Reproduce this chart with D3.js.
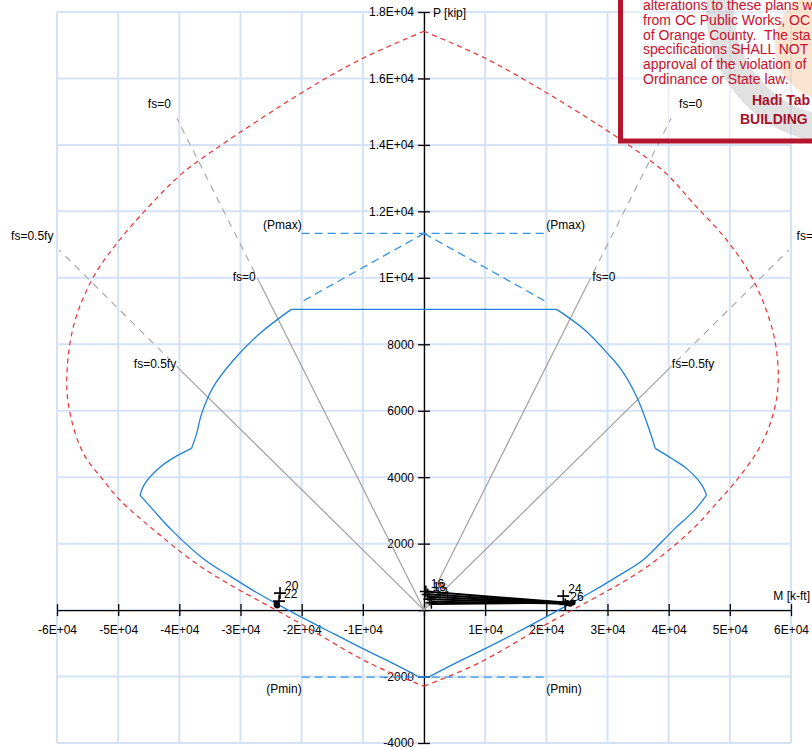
<!DOCTYPE html>
<html>
<head>
<meta charset="utf-8">
<script src="https://cdn.jsdelivr.net/npm/d3@7"></script>
<style>
  html, body { margin: 0; padding: 0; background: #fff; }
  svg { display: block; font-family: "Liberation Sans", Arial, sans-serif; }
  .pre { white-space: pre; }
</style>
</head>
<body>
<script>
// ---------------- data ----------------
const xTickValues = [-60000,-50000,-40000,-30000,-20000,-10000,0,10000,20000,30000,40000,50000,60000];
const xTickLabels = ["-6E+04","-5E+04","-4E+04","-3E+04","-2E+04","-1E+04","","1E+04","2E+04","3E+04","4E+04","5E+04","6E+04"];
const yTickValues = [-4000,-2000,0,2000,4000,6000,8000,10000,12000,14000,16000,18000];
const yTickLabels = ["-4000","-2000","","2000","4000","6000","8000","1E+04","1.2E+04","1.4E+04","1.6E+04","1.8E+04"];

// design strength (phi Pn - phi Mn), solid blue, closed path
const designM = [0,700,5000,10000,15000,22000,27140,31500,35800,40750,44250,46200,45300,43000,40500,37800,36670,34770,32300,30000,26300,21700,
                 -21700,-26800,-31170,-34440,-36340,-37160,-38000,-40430,-43160,-45610,-46430,-44250,-41250,-35800,-31500,-27300,-22200,-15000,-10000,-5000,-700,0];
const designP = [-2020,-2020,-1610,-1160,-690,0,521,1000,1505,2407,3009,3460,3800,4250,4560,4866,5516,6419,7222,7725,8430,9050,
                 9050,8330,7520,6720,5920,5320,4866,4640,4300,3813,3461,3009,2407,1505,1000,521,0,-690,-1160,-1610,-2020,-2020];

// nominal strength (Pn - Mn), dashed red, right and left halves
const nominalRightM = [0,9970,19290,32270,39500,44030,49490,53840,57110,57920,57110,54930,51120,47300,44030,36080,20270,8830,0];
const nominalRightP = [17420,16610,15650,14144,13150,12240,11135,9930,8330,6920,5920,4915,3912,3109,2458,1255,-400,-1604,-2290];
const nominalLeftM  = [0,-9970,-19290,-33680,-39500,-44250,-50240,-54330,-57330,-58410,-57870,-55700,-52430,-49700,-44140,-36080,-20270,-8830,0];
const nominalLeftP  = [17420,16610,15650,13930,13150,12290,11035,9930,8525,6920,5920,4716,3912,3310,2407,1255,-400,-1604,-2290];

// Pmax / Pmin
const pMax = 11336, pMin = -2016, pLimitM = 20000, pMaxDiagP = 9280;

// strain lines fs=0 and fs=0.5fy (inner point on design, outer end)
const fsLabels  = ["fs=0","fs=0","fs=0.5fy","fs=0.5fy"];
const fsInnerM  = [-26700, 26700, -39700, 39700];
const fsInnerP  = [9800, 9800, 7200, 7200];
const fsOuterM  = [-40400, 40400, -59600, 59600];
const fsOuterP  = [14800, 14800, 10830, 10830];

// load points
const loadLabels = ["20","22","24","26","16","18","12","14"];
const loadM = [-23540,-23700,22770,23100,300,600,900,1200];
const loadP = [512,271,421,170,560,470,330,220];
const dotM = [-24100,-24000,23400,23900,24300];
const dotP = [170,140,210,190,230];
// load paths from service points to magnified points
const pathFromM = [300,500,700,900,1100,1300];
const pathFromP = [560,480,400,330,250,180];
const pathToM   = [23600,23700,23800,23900,24100,24300];
const pathToP   = [220,210,200,190,200,230];

// stamp text
const stampLines = ["alterations to these plans w","from OC Public Works, OC","of Orange County.  The sta",
                    "specifications SHALL NOT","approval of the violation of","Ordinance or State law."];
const stampBold = ["Hadi Tab","BUILDING"];

// ---------------- drawing ----------------
const W = 812, H = 747;
const svg = d3.select("body").append("svg").attr("width", W).attr("height", H);
const x = d3.scaleLinear().domain([-60000, 60000]).range([57, 791]);
const y = d3.scaleLinear().domain([-4000, 18000]).range([743, 12]);

// grid
const grid = svg.append("g");
grid.selectAll("line.v").data(xTickValues).join("line")
  .attr("x1", d => x(d)).attr("x2", d => x(d)).attr("y1", y(18000)).attr("y2", y(-4000))
  .attr("stroke", "#d5e1f4").attr("stroke-width", 2);
grid.selectAll("line.h").data(yTickValues).join("line")
  .attr("y1", d => y(d)).attr("y2", d => y(d)).attr("x1", x(-60000)).attr("x2", x(60000))
  .attr("stroke", "#d5e1f4").attr("stroke-width", 2);

// stamp background (semi-transparent, below chart marks)
const stBg = svg.append("g");
stBg.append("rect").attr("x", 620.5).attr("y", -10).attr("width", 230).attr("height", 151)
  .attr("fill", "#fff").attr("fill-opacity", 0.45);
stBg.append("circle").attr("cx", 840).attr("cy", 10).attr("r", 120)
  .attr("fill", "none").attr("stroke", "#9a9a9a").attr("stroke-width", 28).attr("stroke-opacity", 0.3);
stBg.append("circle").attr("cx", 830).attr("cy", 45).attr("r", 55)
  .attr("fill", "#f3a665").attr("fill-opacity", 0.3);

// axes
const xAxis = d3.axisBottom(x).tickValues(xTickValues)
  .tickFormat((d, i) => xTickLabels[i]).tickSize(6).tickSizeOuter(0).tickPadding(9);
const gx = svg.append("g").attr("transform", `translate(0,${y(0)})`).call(xAxis);
gx.selectAll(".tick line").attr("y1", -6).attr("y2", 6);
const yAxis = d3.axisLeft(y).tickValues(yTickValues)
  .tickFormat((d, i) => yTickLabels[i]).tickSize(6).tickSizeOuter(0).tickPadding(4);
const gy = svg.append("g").attr("transform", `translate(${x(0)},0)`).call(yAxis);
gy.selectAll(".tick line").attr("x1", -6).attr("x2", 6);
[gx, gy].forEach(g => {
  g.attr("font-size", 12).attr("font-family", '"Liberation Sans", Arial, sans-serif');
  g.selectAll("text").attr("fill", "#000");
  g.selectAll("line,path").attr("stroke", "#000").attr("stroke-width", 1.3);
});
svg.append("text").attr("x", x(0) + 9).attr("y", y(18000) + 5).attr("font-size", 12).text("P [kip]");
svg.append("text").attr("x", 810).attr("y", y(0) - 10).attr("text-anchor", "end").attr("font-size", 12).text("M [k-ft]");

// strain lines
const fsIdx = d3.range(fsLabels.length);
svg.append("g").selectAll("line").data(fsIdx).join("line")
  .attr("x1", x(0)).attr("y1", y(0)).attr("x2", i => x(fsInnerM[i])).attr("y2", i => y(fsInnerP[i]))
  .attr("stroke", "#a0a0a0").attr("stroke-width", 1.2);
svg.append("g").selectAll("line").data(fsIdx).join("line")
  .attr("x1", i => x(fsInnerM[i])).attr("y1", i => y(fsInnerP[i]))
  .attr("x2", i => x(fsOuterM[i])).attr("y2", i => y(fsOuterP[i]))
  .attr("stroke", "#ababab").attr("stroke-width", 1.2).attr("stroke-dasharray", "7,6");
svg.append("g").selectAll("text").data(fsIdx).join("text")
  .attr("x", i => x(fsInnerM[i]) + (fsInnerM[i] < 0 ? -5 : 5)).attr("y", i => y(fsInnerP[i]) - 3)
  .attr("text-anchor", i => fsInnerM[i] < 0 ? "end" : "start").attr("font-size", 12).text(i => fsLabels[i]);
svg.append("g").selectAll("text").data(fsIdx).join("text")
  .attr("x", i => x(fsOuterM[i]) + (fsOuterM[i] < 0 ? -6 : 8)).attr("y", i => y(fsOuterP[i]) - 10)
  .attr("text-anchor", i => fsOuterM[i] < 0 ? "end" : "start").attr("font-size", 12).text(i => fsLabels[i]);

// nominal curve
const lineFn = d3.line().x(d => x(d[0])).y(d => y(d[1]));
const smoothFn = d3.line().x(d => x(d[0])).y(d => y(d[1])).curve(d3.curveCatmullRom.alpha(0.5));
[[nominalRightM, nominalRightP], [nominalLeftM, nominalLeftP]].forEach(([ms, ps]) => {
  svg.append("path").datum(ms.map((m, i) => [m, ps[i]])).attr("d", smoothFn)
    .attr("fill", "none").attr("stroke", "#ee3030").attr("stroke-width", 1.2).attr("stroke-dasharray", "5,4");
});

// Pmax / Pmin dashed
const blue = "#1f82d8";
const dashed = svg.append("g").attr("fill", "none").attr("stroke", "#3592e0").attr("stroke-width", 1.3).attr("stroke-dasharray", "8,5");
dashed.append("path").attr("d", lineFn([[-pLimitM, pMax], [pLimitM, pMax]]));
dashed.append("path").attr("d", lineFn([[0, pMax], [-pLimitM, pMaxDiagP]]));
dashed.append("path").attr("d", lineFn([[0, pMax], [pLimitM, pMaxDiagP]]));
dashed.append("path").attr("d", lineFn([[-pLimitM, pMin], [pLimitM, pMin]]));
const lab = svg.append("g").attr("font-size", 12);
lab.append("text").attr("x", x(-pLimitM)).attr("y", y(pMax) - 4).attr("text-anchor", "end").text("(Pmax)");
lab.append("text").attr("x", x(pLimitM)).attr("y", y(pMax) - 4).text("(Pmax)");
lab.append("text").attr("x", x(-pLimitM)).attr("y", y(pMin) + 16).attr("text-anchor", "end").text("(Pmin)");
lab.append("text").attr("x", x(pLimitM)).attr("y", y(pMin) + 16).text("(Pmin)");

// design curve: smooth pieces between corner points
const designPts = designM.map((m, i) => [m, designP[i]]);
const corners = [0, 1, 11, 15, 21, 22, 28, 32, 42, 43];
const gDesign = svg.append("g").attr("fill", "none").attr("stroke", blue).attr("stroke-width", 1.3);
for (let k = 0; k < corners.length - 1; k++) {
  const seg = designPts.slice(corners[k], corners[k + 1] + 1);
  gDesign.append("path").attr("d", seg.length > 2 ? smoothFn(seg) : lineFn(seg)).attr("stroke-linejoin", "round");
}

// load paths
svg.append("g").selectAll("line").data(d3.range(pathFromM.length)).join("line")
  .attr("x1", i => x(pathFromM[i])).attr("y1", i => y(pathFromP[i]))
  .attr("x2", i => x(pathToM[i])).attr("y2", i => y(pathToP[i]))
  .attr("stroke", "#000").attr("stroke-width", 2);
// load points
const lp = svg.append("g");
lp.selectAll("path").data(d3.range(loadM.length)).join("path")
  .attr("transform", i => `translate(${x(loadM[i])},${y(loadP[i])})`)
  .attr("d", "M-6,0H6M0,-6V6").attr("stroke", "#000").attr("stroke-width", 1.6);
lp.selectAll("circle").data(d3.range(dotM.length)).join("circle")
  .attr("cx", i => x(dotM[i])).attr("cy", i => y(dotP[i])).attr("r", 3).attr("fill", "#000");
lp.selectAll("text").data(d3.range(loadM.length)).join("text")
  .attr("x", i => x(loadM[i]) + 5).attr("y", i => y(loadP[i]) - 3)
  .attr("font-size", 12).text(i => loadLabels[i]);

// stamp text and border (on top)
const st = svg.append("g");
st.selectAll("text.l").data(stampLines).join("text").attr("class", "pre")
  .attr("x", 643).attr("y", (d, i) => 10 + i * 14.8)
  .attr("font-size", 14).attr("fill", "#c8102e").text(d => d);
st.selectAll("text.b").data(stampBold).join("text")
  .attr("x", (d, i) => i === 0 ? 752 : 740).attr("y", (d, i) => i === 0 ? 105 : 124)
  .attr("font-size", 14).attr("font-weight", "bold").attr("fill", "#a5122a").text(d => d);
st.append("rect").attr("x", 620.5).attr("y", -10).attr("width", 230).attr("height", 151)
  .attr("fill", "none").attr("stroke", "#b3162e").attr("stroke-width", 5);
</script>
</body>
</html>
